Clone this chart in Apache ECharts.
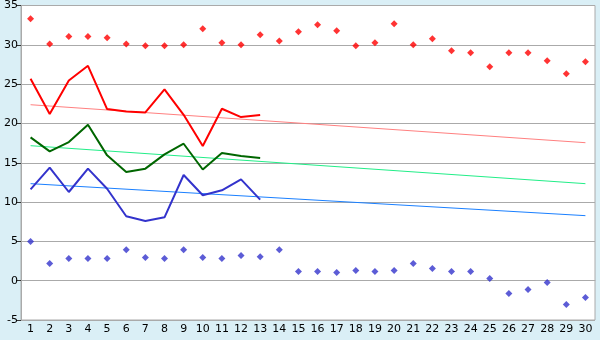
<!DOCTYPE html>
<html>
<head>
<meta charset="utf-8">
<script src="https://cdn.jsdelivr.net/npm/echarts@6/dist/echarts.min.js"></script>
<style>
html,body{margin:0;padding:0;background:#daeff6;}
#c{width:600px;height:340px;}
</style>
</head>
<body>
<div id="c"></div>
<script>
var days = ['1','2','3','4','5','6','7','8','9','10','11','12','13','14','15','16','17','18','19','20','21','22','23','24','25','26','27','28','29','30'];
var maxPoints = [33.3,30.1,31.05,31.05,30.9,30.1,29.87,29.87,30.0,32.04,30.26,30.0,31.27,30.5,31.65,32.54,31.78,29.87,30.26,32.67,30.0,30.77,29.24,28.99,27.21,28.99,28.99,27.97,26.32,27.84];
var minPoints = [4.97,2.18,2.81,2.81,2.81,3.95,2.94,2.81,3.95,2.94,2.81,3.2,3.06,3.95,1.16,1.16,1.03,1.29,1.16,1.29,2.18,1.54,1.16,1.16,0.27,-1.63,-1.12,-0.24,-3.03,-2.14];
var redLine = [25.68,21.19,25.47,27.33,21.83,21.53,21.4,24.33,21.1,17.13,21.87,20.81,21.06];
var greenLine = [18.23,16.45,17.63,19.84,15.94,13.82,14.25,16.07,17.42,14.14,16.23,15.85,15.6];
var blueLine = [11.62,14.38,11.28,14.25,11.7,8.19,7.59,8.06,13.44,10.86,11.5,12.89,10.31];
var redTrend = [22.38,17.55];
var greenTrend = [17.17,12.34];
var blueTrend = [12.34,8.27];
var yTicks = {min:-5, max:35, interval:5};

function trend(ends){
  var a = days.map(function(){return null;});
  a[0] = ends[0]; a[days.length-1] = ends[1];
  return a;
}

var chart = echarts.init(document.getElementById('c'));
var font = 'DejaVu Sans';
chart.setOption({
  animation:false,
  backgroundColor:'#daeff6',
  grid:{left:21,right:5,top:5,bottom:20,show:true,backgroundColor:'#ffffff',borderColor:'#aaaaaa',borderWidth:1},
  xAxis:{type:'category',data:days,boundaryGap:true,
    axisLine:{lineStyle:{color:'#aaaaaa'}},
    axisTick:{alignWithLabel:true,interval:0,length:5,lineStyle:{color:'#333'}},
    axisLabel:{interval:0,color:'#000',fontFamily:font,fontSize:11,margin:4},
    splitLine:{show:false}},
  yAxis:{type:'value',min:yTicks.min,max:yTicks.max,interval:yTicks.interval,
    axisLine:{show:true,lineStyle:{color:'#aaaaaa'}},
    axisTick:{show:true,length:5,lineStyle:{color:'#333'}},
    axisLabel:{color:'#000',fontFamily:font,fontSize:11,margin:3},
    splitLine:{lineStyle:{color:'#aaaaaa',width:1}}},
  series:[
    {type:'line',data:trend(redTrend),connectNulls:true,symbol:'none',lineStyle:{color:'#ff8080',width:1},z:1},
    {type:'line',data:trend(greenTrend),connectNulls:true,symbol:'none',lineStyle:{color:'#22ee88',width:1},z:1},
    {type:'line',data:trend(blueTrend),connectNulls:true,symbol:'none',lineStyle:{color:'#1a80ff',width:1},z:1},
    {type:'line',data:redLine,symbol:'none',lineStyle:{color:'#ff0000',width:2},z:2},
    {type:'line',data:greenLine,symbol:'none',lineStyle:{color:'#006600',width:2},z:2},
    {type:'line',data:blueLine,symbol:'none',lineStyle:{color:'#3333cc',width:2},z:2},
    {type:'scatter',data:maxPoints,symbol:'diamond',symbolSize:7,itemStyle:{color:'#ff0000'},z:3},
    {type:'scatter',data:minPoints,symbol:'diamond',symbolSize:7,itemStyle:{color:'#3333cc'},z:3}
  ]
});
</script>
</body>
</html>
